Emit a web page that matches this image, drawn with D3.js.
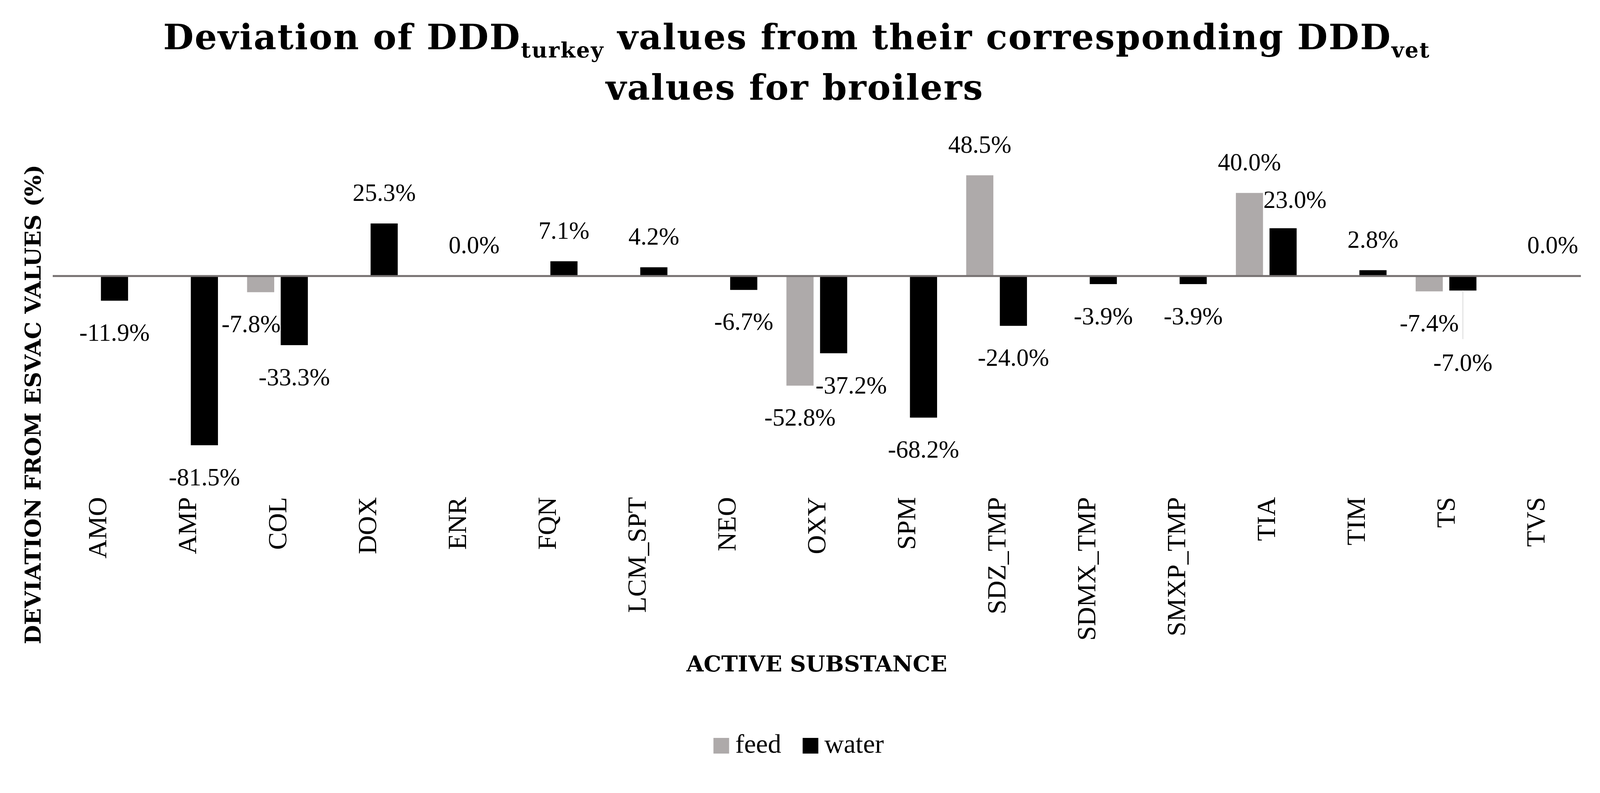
<!DOCTYPE html>
<html>
<head>
<meta charset="utf-8">
<script src="https://cdn.jsdelivr.net/npm/d3@7"></script>
<style>
    html, body { margin: 0; padding: 0; background: #fff; overflow: hidden; }
    svg { display: block; width: 100vw; height: calc(100vw * 2029 / 4187); }
</style>
</head>
<body>
<svg id="chart" viewBox="0 0 4187 2029" preserveAspectRatio="xMinYMin meet"></svg>
<script>
var categories = ['AMO', 'AMP', 'COL', 'DOX', 'ENR', 'FQN', 'LCM_SPT', 'NEO', 'OXY',
    'SPM', 'SDZ_TMP', 'SDMX_TMP', 'SMXP_TMP', 'TIA', 'TIM', 'TS', 'TVS'];
var seriesNames = ['feed', 'water'];
// null = no value for that route
var feedValues = [null, null, -7.8, null, null, null, null, null, -52.8,
    null, 48.5, null, null, 40.0, null, -7.4, null];
var waterValues = [-11.9, -81.5, -33.3, 25.3, 0.0, 7.1, 4.2, -6.7, -37.2,
    -68.2, -24.0, -3.9, -3.9, 23.0, 2.8, -7.0, 0.0];
var yDomain = [-100, 60];

var colors = {feed: '#aeaaaa', water: '#000000'},
    axisColor = '#767171',
    serif = '"Liberation Serif", "Times New Roman", serif',
    serifBold = '"DejaVu Serif", serif';

var plot = {left: 138, right: 4137, top: 396, bottom: 1265};

// hand moved data labels, as in the original workbook
var labelNudge = {
    'COL|feed': [-25, 0],
    'OXY|water': [46, 0],
    'TIA|water': [31, 6],
    'TS|water': [0, 105]
};

var svg = d3.select('#chart');

var x0 = d3.scaleBand()
    .domain(categories)
    .range([plot.left, plot.right]);

var x1 = d3.scaleBand()
    .domain(seriesNames)
    .range([0, x0.bandwidth()])
    .paddingInner(0.193)
    .paddingOuter(0.433);

var y = d3.scaleLinear()
    .domain(yDomain)
    .range([plot.bottom, plot.top]);

var rows = [];
categories.forEach(function(c, i) {
    rows.push({cat: c, series: 'feed', value: feedValues[i]});
    rows.push({cat: c, series: 'water', value: waterValues[i]});
});
rows = rows.filter(function(d) { return d.value !== null; });

function barX(d) {
    return x0(d.cat) + x1(d.series);
}

// bars
svg.append('g').selectAll('rect')
    .data(rows)
    .enter()
    .append('rect')
        .attr('x', barX)
        .attr('width', x1.bandwidth())
        .attr('y', function(d) { return Math.min(y(d.value), y(0)); })
        .attr('height', function(d) { return Math.abs(y(d.value) - y(0)); })
        .attr('fill', function(d) { return colors[d.series]; });

// horizontal axis line at zero
svg.append('line')
    .attr('x1', plot.left)
    .attr('x2', plot.right)
    .attr('y1', y(0))
    .attr('y2', y(0))
    .attr('stroke', axisColor)
    .attr('stroke-width', 5);

// data labels
function nudge(d) {
    return labelNudge[d.cat + '|' + d.series] || [0, 0];
}

function labelX(d) {
    return barX(d) + x1.bandwidth() / 2 + nudge(d)[0];
}

function labelY(d) {
    var base = d.value >= 0 ? y(d.value) - 59 : y(d.value) + 105;
    return base + nudge(d)[1];
}

// leader lines for labels that were pulled away from their bar
svg.append('g').selectAll('line')
    .data(rows.filter(function(d) { return nudge(d)[1] > 60; }))
    .enter()
    .append('line')
        .attr('x1', labelX)
        .attr('x2', labelX)
        .attr('y1', function(d) { return y(d.value); })
        .attr('y2', function(d) { return labelY(d) - 83; })
        .attr('stroke', '#e4e4e4')
        .attr('stroke-width', 3);

svg.append('g').selectAll('text')
    .data(rows)
    .enter()
    .append('text')
        .attr('x', labelX)
        .attr('y', labelY)
        .attr('text-anchor', 'middle')
        .attr('font-family', serif)
        .attr('font-size', 64)
        .attr('fill', '#000')
        .text(function(d) { return d.value.toFixed(1) + '%'; });

// category labels, rotated, hanging under the plot area
svg.append('g').selectAll('text')
    .data(categories)
    .enter()
    .append('text')
        .attr('transform', function(c) {
            return 'translate(' + (x0(c) + x0.bandwidth() / 2) + ',1300) rotate(-90)';
        })
        .attr('text-anchor', 'end')
        .attr('dy', '0.33em')
        .attr('font-family', serif)
        .attr('font-size', 69)
        .attr('fill', '#000')
        .text(function(c) { return c; });

// axis titles
svg.append('text')
    .attr('x', (plot.left + plot.right) / 2)
    .attr('y', 1756)
    .attr('text-anchor', 'middle')
    .attr('font-family', serifBold)
    .attr('font-weight', 'bold')
    .attr('font-size', 58)
    .text('ACTIVE SUBSTANCE');

svg.append('text')
    .attr('transform', 'translate(106,1058) rotate(-90)')
    .attr('text-anchor', 'middle')
    .attr('font-family', serifBold)
    .attr('font-weight', 'bold')
    .attr('font-size', 58)
    .text('DEVIATION FROM ESVAC VALUES (%)');

// title with subscripts
var title = svg.append('g')
    .attr('font-family', serifBold)
    .attr('font-weight', 'bold')
    .attr('font-size', 92)
    .attr('letter-spacing', 2.5)
    .attr('text-anchor', 'middle');

var line1 = title.append('text').attr('x', 2085).attr('y', 129);
line1.append('tspan').text('Deviation of DDD');
line1.append('tspan').attr('dy', 21).attr('font-size', 56).text('turkey');
line1.append('tspan').attr('dy', -21).text(' values from their corresponding DDD');
line1.append('tspan').attr('dy', 21).attr('font-size', 56).text('vet');

title.append('text').attr('x', 2080).attr('y', 261)
    .text('values for broilers');

// legend
var legend = svg.append('g').attr('transform', 'translate(1867,1930)');
var legendX = 0;
seriesNames.forEach(function(s) {
    legend.append('rect')
        .attr('x', legendX)
        .attr('y', 0)
        .attr('width', 41)
        .attr('height', 41)
        .attr('fill', colors[s]);
    var t = legend.append('text')
        .attr('x', legendX + 57)
        .attr('y', 39)
        .attr('font-family', serif)
        .attr('font-size', 70)
        .text(s);
    legendX += 57 + t.node().getComputedTextLength() + 56;
});
</script>
</body>
</html>
